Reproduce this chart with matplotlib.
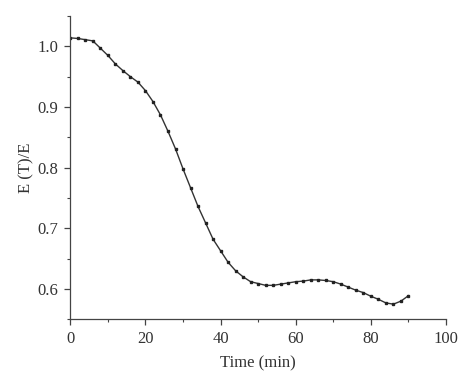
import matplotlib
matplotlib.use("Agg")
import matplotlib.pyplot as plt
from matplotlib.ticker import MultipleLocator

# time (min) and normalised modulus E(T)/E
time_min = list(range(0, 92, 2))
ratio = [1.014, 1.013, 1.011, 1.009, 0.997, 0.985, 0.971, 0.960, 0.950, 0.941,
         0.927, 0.909, 0.887, 0.860, 0.831, 0.798, 0.767, 0.736, 0.709, 0.682,
         0.663, 0.644, 0.630, 0.620, 0.612, 0.609, 0.606, 0.606, 0.608, 0.610,
         0.612, 0.613, 0.615, 0.615, 0.614, 0.612, 0.608, 0.603, 0.598, 0.594,
         0.588, 0.583, 0.577, 0.575, 0.580, 0.589]

plt.rcParams['font.family'] = ['Liberation Serif', 'DejaVu Serif']

fig = plt.figure(figsize=(4.74, 3.85), dpi=100)
ax = fig.add_axes([0.1483, 0.1706, 0.7927, 0.7878])

ax.plot(time_min, ratio, color='#333333', lw=1.0, marker='s', ms=1.8,
        mfc='#222222', mec='#222222')

ax.set_xlim(0, 100)
ax.set_ylim(0.55, 1.05)
ax.xaxis.set_major_locator(MultipleLocator(20))
ax.xaxis.set_minor_locator(MultipleLocator(10))
ax.yaxis.set_major_locator(MultipleLocator(0.1))
ax.yaxis.set_minor_locator(MultipleLocator(0.05))
ax.yaxis.set_major_formatter(matplotlib.ticker.FormatStrFormatter('%.1f'))

for s in ['top', 'right']:
    ax.spines[s].set_visible(False)
for s in ['left', 'bottom']:
    ax.spines[s].set_color('#444444')
    ax.spines[s].set_linewidth(0.9)

ax.tick_params(which='major', direction='out', length=4, width=0.9,
               colors='#444444', labelcolor='#333333', labelsize=12, pad=4.5)
ax.tick_params(which='minor', direction='out', length=2.5, width=0.8,
               colors='#444444')

ax.set_xlabel('Time (min)', fontsize=12, color='#333333', labelpad=6)
ax.set_ylabel('E (T)/E', fontsize=12, color='#333333', labelpad=2)

fig.savefig('out.png', dpi=100)
